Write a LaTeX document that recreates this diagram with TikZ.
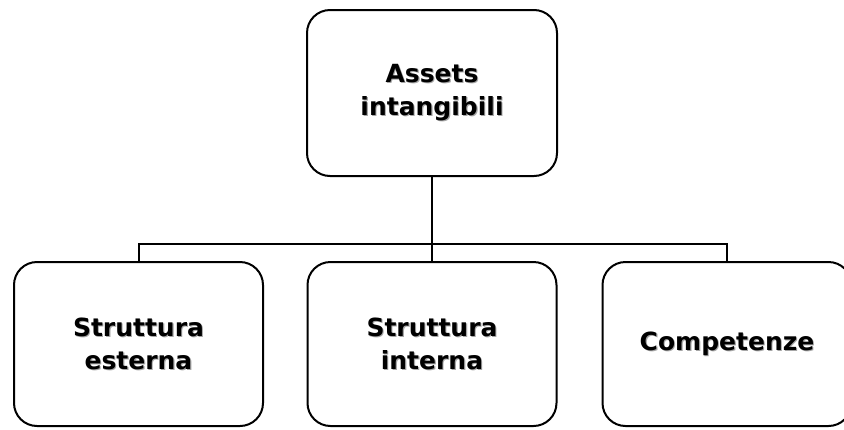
\documentclass[tikz,border=0pt]{standalone}
\usepackage{fontspec}
\setmainfont{DejaVu Sans}
\usepackage{xcolor}
% bold label with a soft grey drop shadow behind each line
\newcommand{\shd}[1]{\leavevmode\rlap{\hspace{1.1pt}\raisebox{-1.1pt}{\color{black!35}#1}}#1}
\begin{document}
\begin{tikzpicture}[x=1pt,y=-1pt,
  box/.style={draw, line width=2pt, rounded corners=23pt, align=center,
    font=\fontsize{25}{33}\selectfont\bfseries, inner sep=0pt},
  topbox/.style={box, minimum width=250pt, minimum height=166pt},
  lowbox/.style={box, minimum width=249pt, minimum height=164pt},
  conn/.style={draw, line width=2pt}]
\useasboundingbox (0,0) rectangle (844,429);
\clip (0,0) rectangle (844,429);

\node[topbox] (root) at (432,93) {\shd{Assets}\\\shd{intangibili}};
\node[lowbox] (est) at (138.5,344) {\shd{Struttura}\\\shd{esterna}};
\node[lowbox] (int) at (432,344) {\shd{Struttura}\\\shd{interna}};
\node[lowbox] (comp) at (727,344) {\shd{Competenze}};

\coordinate (bus) at (0,244);
\draw[conn] (root.south) -- (int.north);
\draw[conn] (est.north) -- (est.north |- bus) -- (comp.north |- bus) -- (comp.north);
\end{tikzpicture}
\end{document}
